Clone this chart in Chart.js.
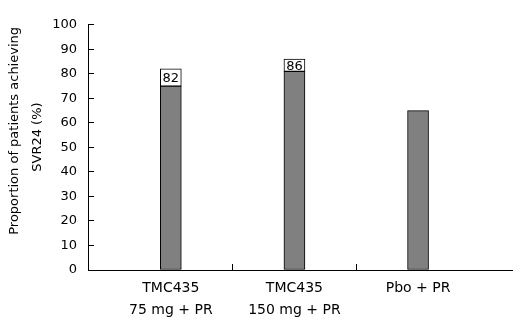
<!DOCTYPE html>
<html>
<head>
<meta charset="utf-8">
<script src="https://cdn.jsdelivr.net/npm/chart.js@4/dist/chart.umd.min.js"></script>
<style>
  html, body { margin: 0; padding: 0; background: #fff; }
  #wrap { width: 528px; height: 330px; }
</style>
</head>
<body>
<div id="wrap"><canvas id="chart"></canvas></div>
<script>
// chart data
const categories = [['TMC435', '75 mg + PR'], ['TMC435', '150 mg + PR'], ['Pbo + PR']];
const positions = [0, 1, 2];
const baseValues = [75, 81, 65];
const reportedValues = [82, 86, null];
const yTicks = [0, 10, 20, 30, 40, 50, 60, 70, 80, 90, 100];

const font = 'DejaVu Sans';

// writes the reported value inside the white box on top of each bar
const boxLabels = {
    id: 'boxLabels',
    afterDatasetsDraw(chart) {
        const ctx = chart.ctx;
        const meta = chart.getDatasetMeta(1);
        ctx.save();
        ctx.font = '13px "' + font + '"';
        ctx.fillStyle = '#000';
        ctx.textAlign = 'center';
        ctx.textBaseline = 'middle';
        meta.data.forEach((bar, i) => {
            if (reportedValues[i] == null) return;
            const mid = (bar.y + bar.base) / 2;
            ctx.fillText(String(reportedValues[i]), bar.x, mid + 1);
        });
        ctx.restore();
    }
};

new Chart(document.getElementById('chart'), {
    type: 'bar',
    data: {
        datasets: [
            {
                data: positions.map((p, i) => ({ x: p, y: baseValues[i] })),
                backgroundColor: '#808080',
                borderColor: '#000',
                borderWidth: 1,
                borderSkipped: false,
                barThickness: 21,
                grouped: false
            },
            {
                data: positions.map((p, i) => ({ x: p, y: reportedValues[i] == null ? null : [baseValues[i], reportedValues[i]] })),
                backgroundColor: '#fff',
                borderColor: '#000',
                borderWidth: 1,
                borderSkipped: false,
                barThickness: 21,
                grouped: false
            }
        ]
    },
    options: {
        responsive: true,
        maintainAspectRatio: false,
        animation: false,
        layout: { padding: { left: 4, right: 16, top: 20, bottom: 0 } },
        plugins: {
            legend: { display: false },
            tooltip: { enabled: false }
        },
        scales: {
            x: {
                type: 'linear',
                offset: false,
                min: -0.67,
                max: 2.76,
                afterBuildTicks: (scale) => {
                    scale.ticks = positions.map(v => ({ value: v }));
                },
                afterFit: (scale) => { scale.height = 60; },
                border: { display: true, color: '#000', width: 1 },
                grid: {
                    offset: true,
                    drawOnChartArea: false,
                    tickLength: -6,
                    tickWidth: 1,
                    tickColor: (c) => (c.index === 1 || c.index === 2) ? '#000' : 'rgba(0,0,0,0)'
                },
                ticks: {
                    autoSkip: false,
                    maxRotation: 0,
                    padding: 14,
                    color: '#000',
                    font: { family: font, size: 14, lineHeight: 1.55 },
                    callback: (v) => categories[v]
                }
            },
            y: {
                min: 0,
                max: 100,
                afterBuildTicks: (scale) => {
                    scale.ticks = yTicks.map(v => ({ value: v }));
                },
                afterFit: (scale) => { scale.width = 84; },
                border: { display: true, color: '#000', width: 1 },
                grid: {
                    drawOnChartArea: false,
                    tickLength: -6,
                    tickWidth: 1,
                    tickColor: '#000'
                },
                ticks: {
                    padding: 17,
                    color: '#000',
                    font: { family: font, size: 13 }
                },
                title: {
                    display: true,
                    text: ['        Proportion of patients achieving', '     SVR24 (%)'],
                    color: '#000',
                    font: { family: font, size: 13, lineHeight: 1.7 },
                    padding: { top: 0, bottom: 0 }
                }
            }
        }
    },
    plugins: [boxLabels]
});
</script>
</body>
</html>
